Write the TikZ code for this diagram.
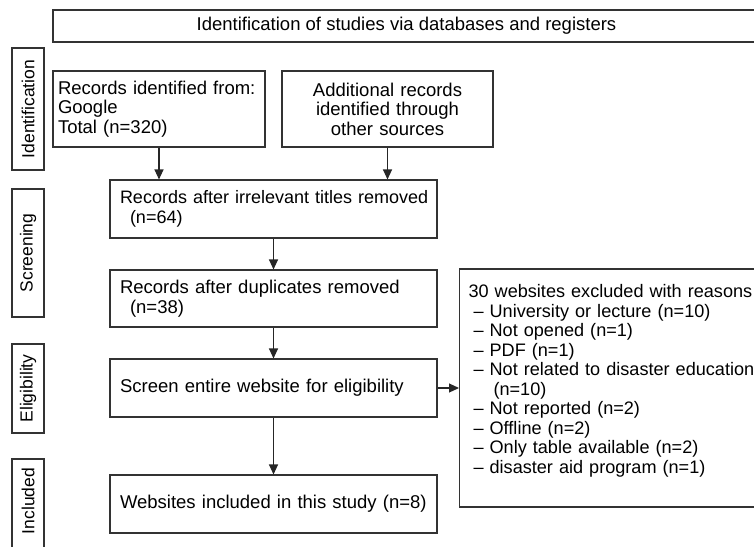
\documentclass[tikz,border=0pt]{standalone}
\usepackage{fontspec}
\setmainfont{Liberation Sans}
\usetikzlibrary{arrows.meta}
\begin{document}
\begin{tikzpicture}[x=1pt,y=-1pt,
  box/.style={draw=black!80, line width=1.1pt, rectangle, inner sep=0pt,
    font=\fontsize{18.5}{19.5}\selectfont},
  side/.style={box, rotate=90, minimum height=32pt,
    font=\fontsize{17.5}{19}\selectfont},
  arr/.style={draw=black!85, line width=1.1pt, -{Triangle[width=9pt,length=10pt]}}]
\useasboundingbox (0,0) rectangle (754,546);
\clip (0,0) rectangle (754,546);
% header
\node[box, minimum width=707pt, minimum height=32pt] (head) at (406.5,26)
  {Identification of studies via databases and registers};
% side labels
\node[side, minimum width=122pt] (sid) at (28,109) {Identification};
\node[side, minimum width=128pt] (ssc) at (28,253) {Screening};
\node[side, minimum width=89pt] (sel) at (28,388.5) {Eligibility};
\node[side, minimum width=101pt] (sin) at (28,509.5) {\hspace{17pt}Included};
% flow boxes
\node[box, inner xsep=5pt, text width=202pt, align=left, minimum height=76pt] (rec1) at (159,109)
  {Records identified from:\\Google\\Total (n=320)};
\node[box, inner xsep=5pt, text width=201pt, align=center, minimum height=76pt] (rec2) at (387.5,109)
  {Additional records\\identified through\\other sources};
\node[box, inner xsep=10pt, text width=307pt, align=left, minimum height=58pt,
  font=\fontsize{18}{19.5}\selectfont] (irr) at (273.5,209)
  {\mbox{Records after irrelevant titles removed}\\\hspace{10pt}(n=64)};
\node[box, inner xsep=10pt, text width=307pt, align=left, minimum height=57pt] (dup) at (273.5,298.5)
  {Records after duplicates removed\\\hspace{10pt}(n=38)};
\node[box, inner xsep=10pt, text width=307pt, align=left, minimum height=58pt] (scr) at (273.5,388)
  {Screen entire website for eligibility};
\node[box, inner xsep=10pt, text width=307pt, align=left, minimum height=58pt] (inc) at (273.5,504)
  {Websites included in this study (n=8)};
\node[box, anchor=west, inner xsep=9pt, text width=293pt, align=left, minimum height=238pt,
  font=\fontsize{18.1}{19.5}\selectfont] (excl) at (459,388)
  {30 websites excluded with reasons\\
   \hspace{5pt}– University or lecture (n=10)\\
   \hspace{5pt}– Not opened (n=1)\\
   \hspace{5pt}– PDF (n=1)\\
   \hspace{5pt}– Not related to disaster education\\
   \hspace{25pt}(n=10)\\
   \hspace{5pt}– Not reported (n=2)\\
   \hspace{5pt}– Offline (n=2)\\
   \hspace{5pt}– Only table available (n=2)\\
   \hspace{5pt}– disaster aid program (n=1)\\[-1pt]\mbox{}};
% connectors
\draw[arr] (rec1.south) -- (rec1.south |- irr.north);
\draw[arr] (rec2.south) -- (rec2.south |- irr.north);
\draw[arr] (irr.south) -- (dup.north);
\draw[arr] (dup.south) -- (scr.north);
\draw[arr] (scr.south) -- (inc.north);
\draw[arr] (scr.east) -- (scr.east -| excl.west);
\end{tikzpicture}
\end{document}
